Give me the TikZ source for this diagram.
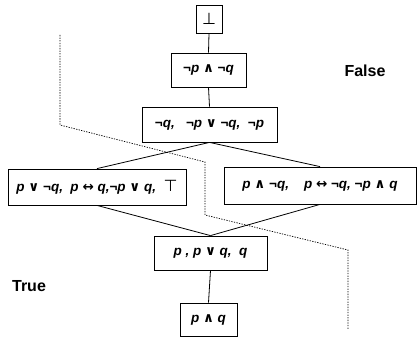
\documentclass[tikz,border=0pt]{standalone}
\usepackage{fontspec}
\setmainfont{Liberation Sans}
\newfontfamily\symf{DejaVu Sans}
\newcommand{\NOT}{{\bfseries\upshape ¬}}
\newcommand{\AND}{{\symf\bfseries\upshape ∧}}
\newcommand{\OR}{{\symf\bfseries\upshape ∨}}
\newcommand{\IFF}{{\symf\bfseries\upshape ↔}}
\tikzset{
  box/.style={draw, line width=0.8pt, inner sep=0pt, align=center,
    font=\fontsize{13.5}{15}\selectfont\bfseries\itshape},
  link/.style={line width=0.8pt},
  border/.style={line width=0.7pt, dash pattern=on 1.3pt off 1.3pt},
  side/.style={font=\fontsize{16}{18}\selectfont\bfseries}
}
\begin{document}
\begin{tikzpicture}[x=1pt,y=-1pt]
\useasboundingbox (0,0) rectangle (417,337);
\node[box, minimum width=26, minimum height=28] (bot) at (209,19) {{\symf\mdseries\upshape\fontsize{16}{16}\selectfont ⊥}};
\node[box, minimum width=75, minimum height=34] (nn) at (208.5,70) {\NOT p \AND\ \NOT q};
\node[box, minimum width=135, minimum height=35] (mid) at (209.5,124.5) {\NOT q,\ \ \ \NOT p \OR\ \NOT q,\ \ \NOT p};
\node[box, minimum width=178, minimum height=36] (lft) at (97,187) {p \OR\ \NOT q,\ \ p \IFF\ q,\NOT p \OR\ q,\ \ {\symf\mdseries\upshape\fontsize{16}{16}\selectfont ⊤}};
\node[box, minimum width=192, minimum height=37] (rgt) at (320,185.5) {p \AND\ \NOT q,\ \ \ \ p \IFF\ \NOT q,\ \NOT p \AND\ q};
\node[box, minimum width=113, minimum height=34] (pq) at (210.5,253) {p , p \OR\ q,\ \ q};
\node[box, minimum width=57, minimum height=33] (and) at (208.5,319.5) {p \AND\ q};
\draw[link] (bot.south) -- (nn.north);
\draw[link] (nn.south) -- (mid.north);
\draw[link] (mid.south) -- (lft.north);
\draw[link] (mid.south) -- (rgt.north);
\draw[link] (lft.south) -- (pq.north);
\draw[link] (rgt.south) -- (pq.north);
\draw[link] (pq.south) -- (and.north);
\draw[border] (60,35) -- (60,125) -- (205,162) -- (205,215) -- (348,250) -- (348,330);
\node[side] (false) at (365,71) {False};
\node[side] (true) at (29,286) {True};
\end{tikzpicture}
\end{document}
